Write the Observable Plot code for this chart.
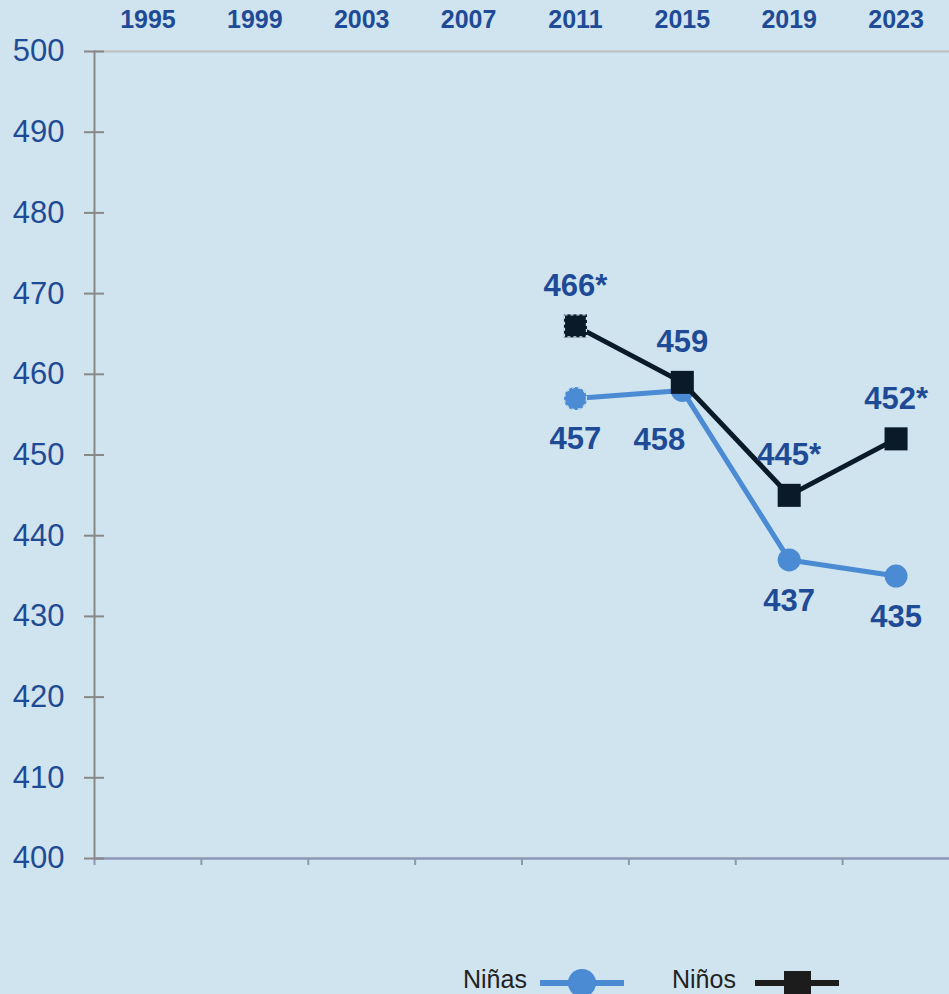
<!DOCTYPE html>
<html><head><meta charset="utf-8">
<script src="https://cdn.jsdelivr.net/npm/d3@7"></script>
<script src="https://cdn.jsdelivr.net/npm/@observablehq/plot@0.6"></script>
<style>
html,body{margin:0;padding:0;background:#cfe4ef;}
#wrap{position:relative;width:949px;height:994px;overflow:hidden;background:#cfe4ef;font-family:"Liberation Sans",Arial,sans-serif;}
#legend{position:absolute;left:0;top:940px;width:949px;height:54px;}
</style></head><body><div id="wrap"></div>
<script>
const years = ["1995","1999","2003","2007","2011","2015","2019","2023"];
const dataYears = ["2011","2015","2019","2023"];
const ninas = [457, 458, 437, 435];
const ninos = [466, 459, 445, 452];
const ninasSig = [false, false, false, false];
const ninosSig = [true, false, true, true];
const dashedMarker = [true, false, false, false];
const yTicks = [400, 410, 420, 430, 440, 450, 460, 470, 480, 490, 500];
const seriesNames = ["Niñas", "Niños"];

const BLUE = "#4a8bd4", DARK = "#0b1a28", TXT = "#1f4b96", BG = "#cfe4ef";
const FONT = "'Liberation Sans', Arial, sans-serif";

const ninasRows = dataYears.map((y, i) => ({year: y, value: ninas[i], sig: ninasSig[i], dashed: dashedMarker[i]}));
const ninosRows = dataYears.map((y, i) => ({year: y, value: ninos[i], sig: ninosSig[i], dashed: dashedMarker[i]}));
const lab = d => d.value + (d.sig ? "*" : "");

const W = 949, H = 940, ML = 94, MR = 0, MT = 51, MB = 82;
const bw = (W - ML - MR) / years.length;

const chart = Plot.plot({
  width: W, height: H,
  marginLeft: ML, marginRight: MR, marginTop: MT, marginBottom: MB,
  style: {background: "transparent", fontFamily: FONT, overflow: "visible"},
  x: {type: "band", domain: years, padding: 0, round: false, axis: null, label: null},
  y: {domain: [400, 500], axis: null, label: null},
  marks: [
    Plot.ruleY([500], {stroke: "#bdbdbd", strokeWidth: 2}),
    Plot.ruleY([400], {stroke: "#8e97b3", strokeWidth: 2.5}),
    Plot.axisX({anchor: "bottom", ticks: years, tickSize: 7, text: null, label: null, dx: -bw / 2, stroke: "#8e97b3", strokeWidth: 2}),
    Plot.frame({anchor: "left", stroke: "#888888", strokeWidth: 2}),
    Plot.axisY({ticks: yTicks, tickSize: 20, dx: 10, text: null, label: null, stroke: "#888888", strokeWidth: 2}),
    Plot.axisY({ticks: yTicks, tickSize: 0, tickPadding: 30, label: null, fontSize: 31, fill: TXT, tickFormat: d => String(d)}),
    Plot.text(years, {x: d => d, frameAnchor: "top", lineAnchor: "middle", dy: -32, text: d => d, fontSize: 25, fontWeight: "bold", fill: TXT}),
    Plot.line(ninasRows, {x: "year", y: "value", stroke: BLUE, strokeWidth: 5}),
    Plot.dot(ninasRows, {x: "year", y: "value", r: 11.5, fill: BLUE}),
    Plot.dot(ninasRows.filter(d => d.dashed), {x: "year", y: "value", r: 11, fill: "none", stroke: BG, strokeWidth: 1.2, strokeDasharray: "3,3"}),
    Plot.line(ninosRows, {x: "year", y: "value", stroke: DARK, strokeWidth: 5}),
    Plot.dot(ninosRows, {x: "year", y: "value", r: 13, symbol: "square", fill: DARK}),
    Plot.dot(ninosRows.filter(d => d.dashed), {x: "year", y: "value", r: 12.4, symbol: "square", fill: "none", stroke: BG, strokeWidth: 1.2, strokeDasharray: "3,3"}),
    Plot.text(ninosRows, {x: "year", y: "value", text: lab, dy: -40, fontSize: 31, fontWeight: "bold", fill: TXT}),
    Plot.text(ninasRows.filter(d => d.year !== "2015"), {x: "year", y: "value", text: lab, dy: 41, fontSize: 31, fontWeight: "bold", fill: TXT}),
    Plot.text(ninasRows.filter(d => d.year === "2015"), {x: "year", y: "value", text: lab, dx: -23, dy: 50, fontSize: 31, fontWeight: "bold", fill: TXT})
  ]
});

const wrap = document.getElementById("wrap");
wrap.appendChild(chart);

const legend = document.createElement("div");
legend.id = "legend";
legend.innerHTML = `<svg width="949" height="54" style="overflow:hidden;font-family:${FONT}">
  <text x="463" y="48" font-size="25" fill="#222">${seriesNames[0]}</text>
  <line x1="540" x2="624" y1="43" y2="43" stroke="${BLUE}" stroke-width="6"/>
  <circle cx="582" cy="43" r="14" fill="${BLUE}"/>
  <text x="672" y="48" font-size="25" fill="#222">${seriesNames[1]}</text>
  <line x1="755" x2="839" y1="43" y2="43" stroke="#1c1c1c" stroke-width="6"/>
  <rect x="784" y="31" width="27" height="27" fill="#1c1c1c"/>
</svg>`;
wrap.appendChild(legend);
</script></body></html>
